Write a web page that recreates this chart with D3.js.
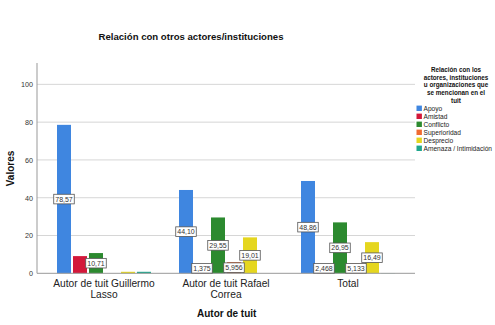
<!DOCTYPE html>
<html><head><meta charset="utf-8">
<script src="https://cdn.jsdelivr.net/npm/d3@7"></script>
<style>body{margin:0;background:#fff;} svg{display:block;font-family:"Liberation Sans",Arial,sans-serif;}</style>
</head><body>
<svg id="c" width="495" height="325"></svg>
<script>
const groups = ["Autor de tuit Guillermo Lasso", "Autor de tuit Rafael Correa", "Total"];
const groupLines = [["Autor de tuit Guillermo", "Lasso"], ["Autor de tuit Rafael", "Correa"], ["Total"]];
const series = ["Apoyo", "Amistad", "Conflicto", "Superioridad", "Desprecio", "Amenaza / Intimidación"];
const colors = ["#3f86e0", "#d3183a", "#2c8a2f", "#f06b32", "#e5d61f", "#1fa68d"];
const apoyo = [78.57, 44.10, 48.86];
const amistad = [9.1, 1.375, 2.468];
const conflicto = [10.71, 29.55, 26.95];
const superioridad = [0, 5.956, 5.133];
const desprecio = [0.8, 19.01, 16.49];
const amenaza = [0.8, 0, 0.1];
const seriesValues = [apoyo, amistad, conflicto, superioridad, desprecio, amenaza];
// which values carry a data label (per series, per group)
const labelled = [[true, true, true], [false, true, true], [true, true, true], [false, true, true], [false, true, true], [false, false, false]];
const yTicks = [0, 20, 40, 60, 80, 100];
const title = "Relación con otros actores/instituciones";
const yTitle = "Valores";
const xTitle = "Autor de tuit";
const legendTitle = ["Relación con los", "actores, instituciones", "u organizaciones que", "se mencionan en el", "tuit"];

const svg = d3.select("#c");
const plot = {left: 37, right: 415, top: 63, bottom: 273.3};
const y = d3.scaleLinear().domain([0, 111.3]).range([plot.bottom, plot.top]);
const x0 = d3.scaleBand().domain(groups).range([43, 409]).padding(0);
const x1 = d3.scaleBand().domain(series).range([0, x0.bandwidth()]).paddingInner(0.125).paddingOuter(0.875);
const color = d3.scaleOrdinal().domain(series).range(colors);

// gridlines
svg.append("g").selectAll("line").data(yTicks.filter(d => d > 0)).join("line")
  .attr("x1", plot.left).attr("x2", plot.right)
  .attr("y1", d => y(d)).attr("y2", d => y(d))
  .attr("stroke", "#d6d6d6").attr("stroke-width", 1);

// y axis
const yAxis = d3.axisLeft(y).tickValues(yTicks).tickSize(0).tickPadding(4).tickFormat(d3.format("d"));
const gy = svg.append("g").attr("transform", `translate(${plot.left},0)`).call(yAxis);
gy.select(".domain").remove();
gy.selectAll("text").attr("font-size", 7.2).attr("fill", "#333").attr("font-family", "Liberation Sans, Arial, sans-serif");
svg.append("line").attr("x1", plot.left).attr("x2", plot.left).attr("y1", plot.top).attr("y2", plot.bottom).attr("stroke", "#999");

// bars
const data = [];
groups.forEach((g, gi) => series.forEach((s, si) => data.push({g, s, v: seriesValues[si][gi], lab: labelled[si][gi]})));
svg.append("g").selectAll("rect").data(data).join("rect")
  .attr("x", d => x0(d.g) + x1(d.s)).attr("width", x1.bandwidth())
  .attr("y", d => y(d.v)).attr("height", d => y(0) - y(d.v))
  .attr("fill", d => color(d.s));

// x axis baseline
svg.append("line").attr("x1", plot.left).attr("x2", plot.right).attr("y1", plot.bottom).attr("y2", plot.bottom).attr("stroke", "#999");

// data labels
const fmt = v => v.toPrecision(4).replace(".", ",");
const lg = svg.append("g");
data.filter(d => d.lab).forEach(d => {
  const cx = x0(d.g) + x1(d.s) + x1.bandwidth() / 2;
  const cy = Math.min(y(d.v / 2), y(0) - 5);
  const t = lg.append("text").attr("x", cx).attr("y", cy).attr("text-anchor", "middle").attr("dominant-baseline", "central")
    .attr("font-size", 7).attr("fill", "#333").text(fmt(d.v));
  const w = t.node().getComputedTextLength() + 3;
  lg.insert("rect", () => t.node()).attr("x", cx - w / 2).attr("y", cy - 4.8).attr("width", w).attr("height", 9.6)
    .attr("fill", "#fff").attr("stroke", "#555").attr("stroke-width", 0.8);
});

// x tick labels
groups.forEach((g, gi) => {
  groupLines[gi].forEach((line, li) => {
    svg.append("text").attr("x", x0(g) + x0.bandwidth() / 2).attr("y", 283 + li * 11.2).attr("dominant-baseline", "central")
      .attr("text-anchor", "middle").attr("font-size", 10.2).attr("fill", "#222").text(line);
  });
});

// titles
svg.append("text").attr("x", 191).attr("y", 36.7).attr("text-anchor", "middle").attr("dominant-baseline", "central")
  .attr("font-size", 9.6).attr("font-weight", "bold").attr("fill", "#111").text(title);
svg.append("text").attr("x", 226.7).attr("y", 313.6).attr("text-anchor", "middle").attr("dominant-baseline", "central")
  .attr("font-size", 10).attr("font-weight", "bold").attr("fill", "#111").text(xTitle);
svg.append("text").attr("transform", "translate(10,168.5) rotate(-90)").attr("text-anchor", "middle").attr("dominant-baseline", "central")
  .attr("font-size", 10).attr("font-weight", "bold").attr("fill", "#111").text(yTitle);

// legend
const leg = svg.append("g");
legendTitle.forEach((l, i) => leg.append("text").attr("x", 456).attr("y", 69.3 + i * 7.8).attr("text-anchor", "middle")
  .attr("dominant-baseline", "central").attr("font-size", 6.3).attr("font-weight", "bold").attr("fill", "#111").text(l));
series.forEach((s, i) => {
  const cy = 108.3 + i * 8;
  leg.append("rect").attr("x", 416.5).attr("y", cy - 2.7).attr("width", 5.4).attr("height", 5.4).attr("fill", color(s));
  leg.append("text").attr("x", 423.5).attr("y", cy).attr("dominant-baseline", "central").attr("font-size", 6.6).attr("fill", "#222").text(s);
});
</script>
</body></html>
